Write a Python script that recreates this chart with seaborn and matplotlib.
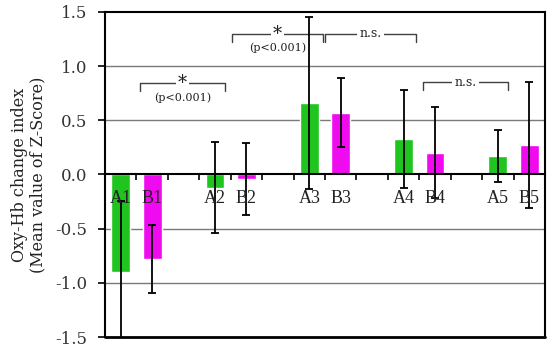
import matplotlib
matplotlib.use("Agg")
import matplotlib.pyplot as plt
import seaborn as sns
import pandas as pd

# ---- data ----
labels = ['A1', 'B1', 'A2', 'B2', 'A3', 'B3', 'A4', 'B4', 'A5', 'B5']
groups = ['A', 'B', 'A', 'B', 'A', 'B', 'A', 'B', 'A', 'B']
means = [-0.90, -0.78, -0.12, -0.04, 0.66, 0.57, 0.33, 0.20, 0.17, 0.27]
errs = [0.66, 0.31, 0.42, 0.33, 0.79, 0.32, 0.45, 0.42, 0.24, 0.58]
order = ['A1', 'B1', '_1', 'A2', 'B2', '_2', 'A3', 'B3', '_3',
         'A4', 'B4', '_4', 'A5', 'B5']
ytick_vals = [-1.5, -1.0, -0.5, 0.0, 0.5, 1.0, 1.5]
ytick_labels = ['-1.5', '-1.0', '-0.5', '0.0', '0.5', '1.0', '1.5']

df = pd.DataFrame({'label': labels, 'group': groups, 'mean': means, 'err': errs})

sns.set_style("white")
plt.rcParams['font.family'] = ['DejaVu Serif']

fig = plt.figure(figsize=(5.5, 3.49), dpi=100)
ax = fig.add_axes([0.191, 0.034, 0.800, 0.932])

sns.barplot(data=df, x='label', y='mean', hue='group', order=order,
            palette={'A': '#1fc41f', 'B': '#f00af0'}, dodge=False, saturation=1,
            width=0.6, legend=False, errorbar=None, ax=ax, zorder=2)

xpos = [order.index(l) for l in labels]
ax.errorbar(xpos, means, yerr=errs, fmt='none', ecolor='black',
            elinewidth=1.3, capsize=3, capthick=1.3, zorder=4)

ax.set_xlim(-0.5, 13.5)
ax.set_ylim(-1.5, 1.5)

# grid
for v in [-1.0, -0.5, 0.5, 1.0]:
    ax.axhline(v, color='#7a7a7a', lw=1.0, zorder=1)
ax.axhline(-1.5, color='black', lw=2, zorder=5, clip_on=False)

# spines
ax.spines['bottom'].set_position(('data', 0))
for s in ['left', 'right', 'top', 'bottom']:
    ax.spines[s].set_color('black')
    ax.spines[s].set_linewidth(1.5)
    ax.spines[s].set_zorder(5)

ax.set_xticks([i + 0.5 for i in range(13)])
ax.set_xticklabels([''] * 13)
ax.tick_params(axis='x', direction='out', length=4, width=1.2, color='black', bottom=True)
ax.set_yticks(ytick_vals)
ax.set_yticklabels(ytick_labels, fontsize=12, color='#333333')
ax.tick_params(axis='y', direction='out', length=5, width=1.2, color='black', left=True, pad=8)
ax.set_xlabel('')
ax.set_ylabel('Oxy-Hb change index\n(Mean value of Z-Score)', fontsize=11.5,
              linespacing=1.1, labelpad=6, color='#222222')

# category labels
for l, x in zip(labels, xpos):
    ax.text(x, -0.22, l, ha='center', va='center', fontsize=13,
            family='Liberation Serif', color='#222222', zorder=6)

# significance brackets
def bracket(x0, x1, y, drop, label, sub=None, lsize=9):
    ax.plot([x0, x0, x1, x1], [y - drop, y, y, y - drop], color='#404040',
            lw=1.0, zorder=3)
    xm = (x0 + x1) / 2
    ax.text(xm, y, label, ha='center', va='center', fontsize=lsize, zorder=4,
            color='#222222', bbox=dict(facecolor='white', edgecolor='none', pad=1.5))
    if sub:
        ax.text(xm, y - 0.13, sub, ha='center', va='center', fontsize=8,
                color='#222222', zorder=4)

bracket(0.61, 3.32, 0.84, 0.07, '*', '(p<0.001)', lsize=13)
bracket(3.54, 6.44, 1.30, 0.08, '*', '(p<0.001)', lsize=13)
bracket(6.50, 9.40, 1.30, 0.08, 'n.s.')
bracket(9.62, 12.32, 0.85, 0.07, 'n.s.')

fig.savefig('out.png', dpi=100)
